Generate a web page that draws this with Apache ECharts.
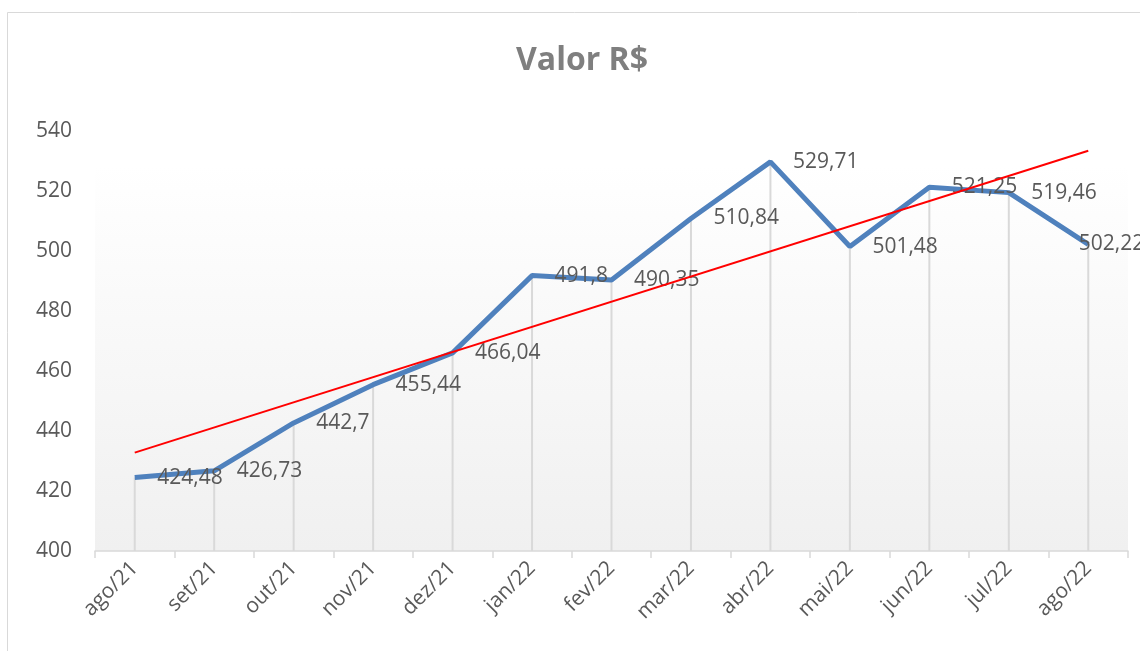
<!DOCTYPE html>
<html>
<head>
<meta charset="utf-8">
<script src="https://cdn.jsdelivr.net/npm/echarts@6/dist/echarts.min.js"></script>
<style>
  html, body { margin: 0; padding: 0; background: #fff; }
  #valorChart { width: 1140px; height: 651px; }
</style>
</head>
<body>
<div id="valorChart"></div>
<script>
// dados
var meses = ['ago/21', 'set/21', 'out/21', 'nov/21', 'dez/21', 'jan/22', 'fev/22',
             'mar/22', 'abr/22', 'mai/22', 'jun/22', 'jul/22', 'ago/22'];
var valores = [424.48, 426.73, 442.7, 455.44, 466.04, 491.8, 490.35,
               510.84, 529.71, 501.48, 521.25, 519.46, 502.22];
// linha de tendencia (pontas)
var tendencia = [[0, 432.8], [12, 533.4]];
var yTicks = [400, 420, 440, 460, 480, 500, 520, 540];

var chartDom = document.getElementById('valorChart');
var valorChart = echarts.init(chartDom);
var fonte = '"Open Sans", sans-serif';

// o ultimo rotulo fica por cima do ponto (nao cabe a direita)
var dadosLinha = valores.map(function (v, i) {
  if (i === valores.length - 1) {
    return { value: v, label: { distance: -10 } };
  }
  return v;
});

var option = {
  animation: false,
  backgroundColor: '#fff',
  title: {
    text: 'Valor R$',
    left: 511,
    top: 40,
    textStyle: {
      color: '#7f7f7f',
      fontSize: 32,
      fontWeight: 'bold',
      fontFamily: fonte
    }
  },
  graphic: [
    {
      type: 'rect',
      shape: { x: 7.5, y: 12.5, width: 1200, height: 700 },
      style: { fill: 'none', stroke: '#d9d9d9', lineWidth: 1 },
      silent: true,
      z: -1
    }
  ],
  grid: {
    left: 95,
    right: 12,
    top: 131,
    bottom: 100,
    show: true,
    borderWidth: 0,
    backgroundColor: new echarts.graphic.LinearGradient(0, 0, 0, 1, [
      { offset: 0, color: '#ffffff' },
      { offset: 0.08, color: '#ffffff' },
      { offset: 1, color: '#f0f0f0' }
    ])
  },
  xAxis: {
    type: 'category',
    data: meses,
    boundaryGap: true,
    axisLine: { lineStyle: { color: '#d9d9d9', width: 1.5 } },
    axisTick: { show: true, length: 7, lineStyle: { color: '#d9d9d9', width: 1.5 } },
    axisLabel: {
      rotate: 45,
      margin: 14,
      color: '#595959',
      fontSize: 21,
      fontFamily: fonte
    },
    splitLine: { show: false }
  },
  yAxis: {
    type: 'value',
    min: yTicks[0],
    max: yTicks[yTicks.length - 1],
    interval: 20,
    axisLine: { show: false },
    axisTick: { show: false },
    splitLine: { show: false },
    axisLabel: {
      margin: 23,
      color: '#595959',
      fontSize: 21,
      fontFamily: fonte
    }
  },
  series: [
    {
      // linhas verticais ate o eixo
      type: 'bar',
      data: valores,
      barWidth: 2,
      silent: true,
      clip: true,
      itemStyle: { color: '#d9d9d9' },
      z: 1
    },
    {
      name: 'Valor R$',
      type: 'line',
      data: dadosLinha,
      symbol: 'circle',
      symbolSize: 1,
      showSymbol: true,
      itemStyle: { color: 'rgba(0,0,0,0)' },
      lineStyle: { color: '#4f81bd', width: 5 },
      label: {
        show: true,
        position: 'right',
        distance: 22,
        color: '#595959',
        fontSize: 21,
        fontFamily: fonte,
        formatter: function (p) {
          return String(p.value).replace('.', ',');
        }
      },
      labelLayout: { hideOverlap: false },
      z: 3
    },
    {
      name: 'Tendencia',
      type: 'line',
      data: tendencia,
      symbol: 'none',
      silent: true,
      lineStyle: { color: '#ff0000', width: 2 },
      z: 4
    }
  ]
};

valorChart.setOption(option);
</script>
</body>
</html>
